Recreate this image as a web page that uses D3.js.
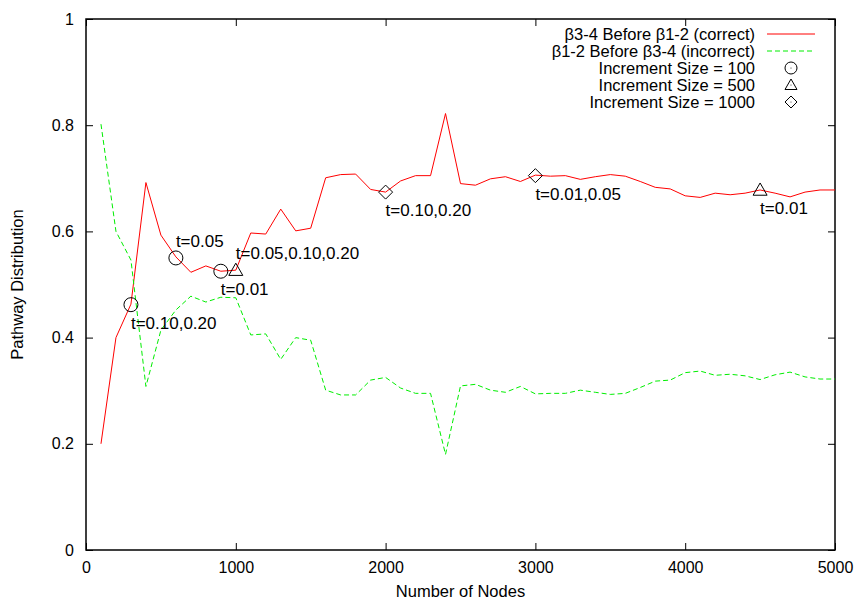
<!DOCTYPE html>
<html lang="en">
  <head>
    <meta charset="utf-8">
    <title>Pathway Distribution vs Number of Nodes</title>
    <style>
      body { margin: 0; background: #fff; }
      text { font-family: "Liberation Sans", Arial, Helvetica, sans-serif; fill: #000; }
      .axis path, .axis line { stroke: #000; }
    </style>
    <script src="https://cdn.jsdelivr.net/npm/d3@7/dist/d3.min.js"></script>
  </head>
  <body>
  <svg width="859" height="600"></svg>
    <script>
// number of nodes (x)
var nodes = [100,200,300,400,500,600,700,800,900,1000,
             1100,1200,1300,1400,1500,1600,1700,1800,1900,2000,
             2100,2200,2300,2400,2500,2600,2700,2800,2900,3000,
             3100,3200,3300,3400,3500,3600,3700,3800,3900,4000,
             4100,4200,4300,4400,4500,4600,4700,4800,4900,5000];

// beta3-4 before beta1-2 (correct)
var correct = [0.200,0.400,0.463,0.692,0.593,0.552,0.523,0.535,0.525,0.527,
               0.597,0.595,0.642,0.601,0.606,0.701,0.707,0.708,0.679,0.674,
               0.695,0.705,0.705,0.822,0.690,0.687,0.699,0.703,0.694,0.706,
               0.704,0.705,0.698,0.703,0.707,0.704,0.694,0.683,0.680,0.667,
               0.664,0.672,0.669,0.672,0.678,0.672,0.665,0.674,0.678,0.678];

// beta1-2 before beta3-4 (incorrect)
var incorrect = [0.802,0.600,0.546,0.308,0.414,0.452,0.478,0.467,0.476,0.475,
                 0.405,0.407,0.359,0.400,0.395,0.301,0.292,0.292,0.320,0.325,
                 0.305,0.295,0.295,0.180,0.309,0.312,0.301,0.297,0.308,0.294,
                 0.295,0.295,0.301,0.297,0.293,0.295,0.306,0.318,0.320,0.334,
                 0.337,0.329,0.331,0.328,0.321,0.330,0.335,0.326,0.322,0.322];

// marked points: increment size 100 / 500 / 1000
var inc100 = [[300,0.462],[600,0.550],[900,0.525]];
var inc500 = [[1000,0.527],[4500,0.678]];
var inc1000 = [[2000,0.674],[3000,0.705]];

// annotations
var notes = [
  {x:300,  y:0.462, text:"t=0.10,0.20",      pos:"below"},
  {x:600,  y:0.550, text:"t=0.05",           pos:"above"},
  {x:900,  y:0.525, text:"t=0.01",           pos:"below"},
  {x:1000, y:0.527, text:"t=0.05,0.10,0.20", pos:"above"},
  {x:2000, y:0.674, text:"t=0.10,0.20",      pos:"below"},
  {x:3000, y:0.705, text:"t=0.01,0.05",      pos:"below"},
  {x:4500, y:0.678, text:"t=0.01",           pos:"below"}
];

var xTicks = [0,1000,2000,3000,4000,5000];
var yTicks = [0,0.2,0.4,0.6,0.8,1];

var legendLabels = ["\u03b23-4 Before \u03b21-2 (correct)",
                    "\u03b21-2 Before \u03b23-4 (incorrect)",
                    "Increment Size = 100",
                    "Increment Size = 500",
                    "Increment Size = 1000"];

//dimensions of graph
var svg = d3.select("svg"),
    margin = {top: 19, right: 24, bottom: 50, left: 86},
    width = svg.attr("width") - margin.left - margin.right,
    height = svg.attr("height") - margin.top - margin.bottom;
var g = svg.append("g")
    .attr("transform", "translate(" + margin.left + "," + margin.top + ")");

var xScale = d3.scaleLinear().domain([0, 5000]).range([0, width]);
var yScale = d3.scaleLinear().domain([0, 1]).range([height, 0]);

var tickLen = 7;

//axes (ticks inward, mirrored)
g.append("g").attr("class", "axis")
    .attr("transform", "translate(0," + height + ")")
    .call(d3.axisBottom(xScale).tickValues(xTicks).tickSizeInner(-tickLen).tickSizeOuter(0).tickPadding(12).tickFormat(d3.format("d")))
    .call(function(a){ a.select(".domain").remove(); a.selectAll("text").attr("font-size", 16); });
g.append("g").attr("class", "axis")
    .call(d3.axisTop(xScale).tickValues(xTicks).tickSizeInner(-tickLen).tickSizeOuter(0).tickFormat(""))
    .call(function(a){ a.select(".domain").remove(); });
g.append("g").attr("class", "axis")
    .call(d3.axisLeft(yScale).tickValues(yTicks).tickSizeInner(-tickLen).tickSizeOuter(0).tickPadding(12).tickFormat(d3.format("")))
    .call(function(a){ a.select(".domain").remove(); a.selectAll("text").attr("font-size", 16); });
g.append("g").attr("class", "axis")
    .attr("transform", "translate(" + width + ",0)")
    .call(d3.axisRight(yScale).tickValues(yTicks).tickSizeInner(-tickLen).tickSizeOuter(0).tickFormat(""))
    .call(function(a){ a.select(".domain").remove(); });

g.selectAll(".axis .tick line").attr("stroke-width", 1);

// border
g.append("rect")
    .attr("width", width).attr("height", height)
    .attr("fill", "none").attr("stroke", "#000").attr("stroke-width", 1.5);

// axis titles
svg.append("text")
    .attr("x", margin.left + width / 2)
    .attr("y", 597)
    .attr("text-anchor", "middle")
    .attr("font-size", 16.5)
    .text("Number of Nodes");
svg.append("text")
    .attr("transform", "translate(23," + (margin.top + height / 2) + ") rotate(-90)")
    .attr("text-anchor", "middle")
    .attr("font-size", 16.5)
    .text("Pathway Distribution");

//lines
var line = function(vals) {
  return d3.line()
    .x(function(d, i) { return xScale(nodes[i]); })
    .y(function(d) { return yScale(d); })(vals);
};
g.append("path").attr("d", line(correct))
    .attr("fill", "none").attr("stroke", "#ff0000").attr("stroke-width", 1);
g.append("path").attr("d", line(incorrect))
    .attr("fill", "none").attr("stroke", "#00ee00").attr("stroke-width", 1)
    .attr("stroke-dasharray", "5,3");

//marker shapes
var r = 7;
function circleP(s) { return "M" + (-s) + ",0A" + s + "," + s + " 0 1,0 " + s + ",0A" + s + "," + s + " 0 1,0 " + (-s) + ",0Z"; }
function triP(s) { return "M0," + (-s) + "L" + s + "," + (s * 0.75) + "L" + (-s) + "," + (s * 0.75) + "Z"; }
function diaP(s) { return "M0," + (-s) + "L" + s + ",0L0," + s + "L" + (-s) + ",0Z"; }

function drawMarkers(pts, pathFn) {
  g.selectAll(null).data(pts).enter().append("path")
    .attr("transform", function(d) { return "translate(" + xScale(d[0]) + "," + yScale(d[1]) + ")"; })
    .attr("d", pathFn(r))
    .attr("fill", "none").attr("stroke", "#000").attr("stroke-width", 1);
}
drawMarkers(inc100, circleP);
drawMarkers(inc500, triP);
drawMarkers(inc1000, diaP);

//annotations
g.selectAll(null).data(notes).enter().append("text")
    .attr("x", function(d) { return xScale(d.x); })
    .attr("y", function(d) { return yScale(d.y) + (d.pos == "above" ? -11 : 24); })
    .attr("font-size", 17)
    .text(function(d) { return d.text; });

//legend
var lg = svg.append("g");
var rowY = [34, 51, 68, 85, 102];
legendLabels.forEach(function(t, i) {
  lg.append("text")
    .attr("x", 755).attr("y", rowY[i] + 5.5)
    .attr("text-anchor", "end")
    .attr("font-size", 16.5)
    .text(t);
});
lg.append("line").attr("x1", 767).attr("x2", 815).attr("y1", rowY[0]).attr("y2", rowY[0])
    .attr("stroke", "#ff0000");
lg.append("line").attr("x1", 767).attr("x2", 815).attr("y1", rowY[1]).attr("y2", rowY[1])
    .attr("stroke", "#00ee00").attr("stroke-dasharray", "5,3");
[circleP, triP, diaP].forEach(function(fn, k) {
  lg.append("path")
    .attr("transform", "translate(791," + rowY[k + 2] + ")")
    .attr("d", fn(6))
    .attr("fill", "none").attr("stroke", "#000");
  lg.append("circle").attr("cx", 791).attr("cy", rowY[k + 2]).attr("r", 0.5).attr("fill", "#000");
});

    </script>

  </body>
</html>
